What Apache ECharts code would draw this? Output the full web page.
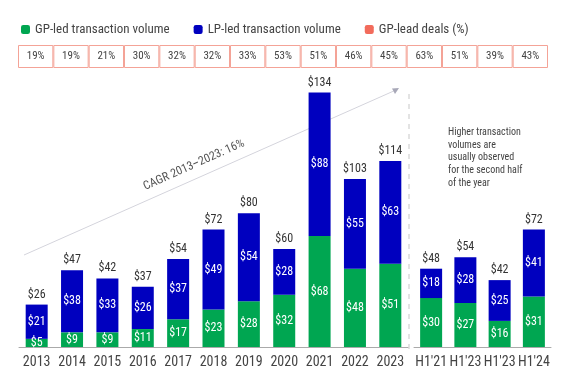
<!DOCTYPE html>
<html>
<head>
<meta charset="utf-8">
<script src="https://cdn.jsdelivr.net/npm/echarts@6/dist/echarts.min.js"></script>
<style>html,body{margin:0;padding:0;background:#fff}#c{width:561px;height:378px}</style>
</head>
<body>
<div id="c"></div>
<script>
var yearCats = ['2013','2014','2015','2016','2017','2018','2019','2020','2021','2022','2023'];
var yearGP = [5,9,9,11,17,23,28,32,68,48,51];
var yearLP = [21,38,33,26,37,49,54,28,88,55,63];
var yearTotal = [26,47,42,37,54,72,80,60,134,103,114];
var halfCats = ["H1'21","H1'23","H1'23","H1'24"];
var halfGP = [30,27,16,31];
var halfLP = [18,28,25,41];
var halfTotal = [48,54,42,72];
var gpLeadPct = [19,19,21,30,32,32,33,53,51,46,45,63,51,39,43];

var FONT = "'Liberation Sans Narrow', 'Roboto Condensed', 'Liberation Sans', sans-serif";
var GREEN = '#00A651', BLUE = '#0000BF', SALMON = '#F26B5B';

function zeros(n){var a=[];for(var i=0;i<n;i++)a.push(0);return a;}
function ones(n){var a=[];for(var i=0;i<n;i++)a.push(1);return a;}

var chart = echarts.init(document.getElementById('c'), null, {renderer:'canvas'});
var inLbl = {show:true, position:'inside', color:'#fff', fontSize:12, fontFamily:FONT, formatter:function(p){return '$'+p.value;}};
function totLbl(arr){return {show:true, position:'top', distance:4, color:'#333', fontSize:12, fontFamily:FONT, formatter:function(p){return '$'+arr[p.dataIndex];}};}

var axisLbl = {color:'#444', fontSize:14, fontFamily:FONT, margin:8, interval:0};
chart.setOption({
  animation:false,
  legend:{
    left:16, top:18, itemWidth:9, itemHeight:9, itemGap:24,
    textStyle:{color:'#444', fontSize:13, fontFamily:FONT},
    data:[{name:'GP-led transaction volume'},{name:'LP-led transaction volume'},
      {name:'GP-lead deals (%)', itemStyle:{color:SALMON, borderWidth:0}}]
  },
  grid:[
    {left:19, width:389, top:86, bottom:31},
    {left:414, width:137, top:86, bottom:31},
    {left:18, right:13, top:45, height:23}
  ],
  xAxis:[
    {gridIndex:0, type:'category', data:yearCats, axisTick:{show:false}, axisLine:{lineStyle:{color:'#aaa'}}, axisLabel:axisLbl},
    {gridIndex:1, type:'category', data:halfCats, axisTick:{show:false}, axisLine:{lineStyle:{color:'#aaa'}}, axisLabel:axisLbl},
    {gridIndex:2, type:'category', data:gpLeadPct.map(function(v,i){return 'c'+i;}), show:false}
  ],
  yAxis:[
    {gridIndex:0, type:'value', min:0, max:160, show:false},
    {gridIndex:1, type:'value', min:0, max:160, show:false},
    {gridIndex:2, type:'value', min:0, max:1, show:false}
  ],
  series:[
    {name:'GP-led transaction volume', type:'bar', stack:'a', xAxisIndex:0, yAxisIndex:0, barWidth:22, data:yearGP, itemStyle:{color:GREEN}, label:inLbl},
    {name:'LP-led transaction volume', type:'bar', stack:'a', xAxisIndex:0, yAxisIndex:0, barWidth:22, data:yearLP, itemStyle:{color:BLUE}, label:inLbl},
    {name:'totA', type:'bar', stack:'a', xAxisIndex:0, yAxisIndex:0, barWidth:22, data:zeros(yearCats.length), itemStyle:{color:'transparent'}, label:totLbl(yearTotal)},
    {name:'GP-led transaction volume', type:'bar', stack:'b', xAxisIndex:1, yAxisIndex:1, barWidth:22, data:halfGP, itemStyle:{color:GREEN}, label:inLbl},
    {name:'LP-led transaction volume', type:'bar', stack:'b', xAxisIndex:1, yAxisIndex:1, barWidth:22, data:halfLP, itemStyle:{color:BLUE}, label:inLbl},
    {name:'totB', type:'bar', stack:'b', xAxisIndex:1, yAxisIndex:1, barWidth:22, data:zeros(halfCats.length), itemStyle:{color:'transparent'}, label:totLbl(halfTotal)},
    {name:'GP-lead deals (%)', type:'bar', xAxisIndex:2, yAxisIndex:2, barWidth:'100%', barCategoryGap:'0%', data:ones(gpLeadPct.length),
      itemStyle:{color:'#fff', borderColor:'#F4A397', borderWidth:1},
      label:{show:true, position:'inside', color:'#444', fontSize:11, fontFamily:FONT, formatter:function(p){return gpLeadPct[p.dataIndex]+'%';}}}
  ],
  graphic:[
    {type:'line', z:-10, shape:{x1:24,y1:255,x2:396,y2:90}, style:{stroke:'#d4d4dc', lineWidth:1}, silent:true},
    {type:'polygon', z:-10, shape:{points:[[399,88],[392,88.5],[395,94]]}, style:{fill:'#a8a8b8'}, silent:true},
    {type:'text', x:194, y:165, rotation:24*Math.PI/180, style:{text:'CAGR 2013\u20132023: 16%', fill:'#555', font:'12px '+FONT, align:'center', verticalAlign:'middle'}, silent:true},
    {type:'line', shape:{x1:409,y1:94,x2:409,y2:352}, style:{stroke:'#c8c8c8', lineWidth:1, lineDash:[5,5]}, silent:true},
    {type:'text', x:448, y:126, style:{text:'Higher transaction\nvolumes are\nusually observed\nfor the second half\nof the year', fill:'#444', font:'10px '+FONT, lineHeight:12.7, align:'left', verticalAlign:'top'}, silent:true}
  ]
});
</script>
</body>
</html>
